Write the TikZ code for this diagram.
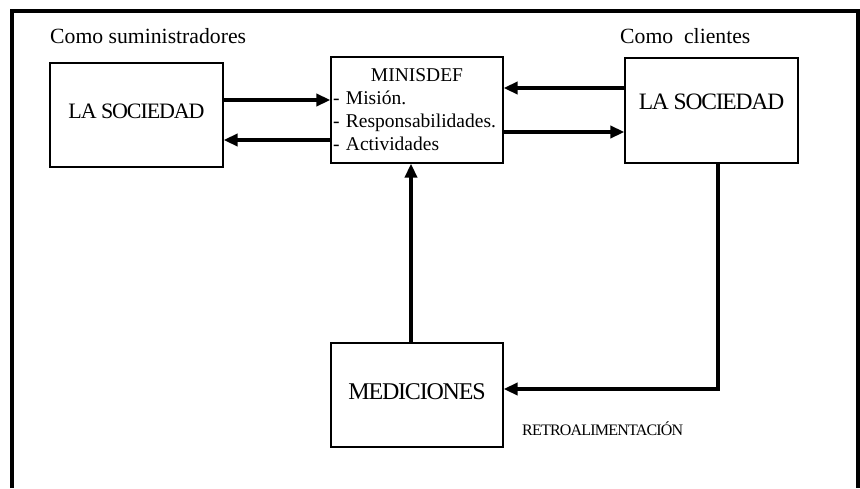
\documentclass[tikz,border=0pt]{standalone}
\usepackage{fontspec}
\setmainfont{Liberation Serif}
\newfontfamily\apretada[LetterSpace=-5]{Liberation Serif}
\usetikzlibrary{arrows.meta}

\begin{document}
\begin{tikzpicture}[
		x=1pt, y=-1pt,
		caja/.style={draw, line width=1.2pt, inner sep=0pt, minimum width=172pt, minimum height=105pt},
		flecha/.style={line width=3.8pt, -{Triangle[length=14pt,width=12pt]}},
		titulo/.style={anchor=base west, inner sep=0pt}
		]
		\useasboundingbox (0,0) rectangle (860,488);
		\draw[line width=3.5pt] (12,488) -- (12,11) -- (858,11) -- (858,488);

		\node[titulo, font=\fontsize{21.7}{26}\selectfont] (sumin) at (50,43) {Como suministradores};
		\node[titulo, font=\fontsize{21.7}{26}\selectfont] (clien) at (620,43) {Como~ clientes};

		\node[caja, minimum width=173pt, minimum height=104pt, text height=15pt, text depth=9pt,
			font=\apretada\fontsize{22}{26}\selectfont] (soc1) at (136.5,115) {LA SOCIEDAD};
		\node[caja, minimum height=106pt, inner xsep=2pt, text width=168pt, align=left,
			font=\fontsize{19.5}{23}\selectfont] (minis) at (417,110)
			{\hfill MINISDEF\hfill\null\\- Misión.\\- Responsabilidades.\\- Actividades};
		\node[caja, minimum width=173pt, text height=16pt, text depth=19pt,
			font=\apretada\fontsize{23.5}{28}\selectfont] (soc2) at (711.5,110.5) {LA SOCIEDAD};
		\node[caja, minimum height=104pt, text height=16pt, text depth=7.4pt,
			font=\apretada\fontsize{24}{28}\selectfont] (medic) at (417,395) {MEDICIONES};
		\node[titulo, font=\apretada\fontsize{16}{19}\selectfont] (retro) at (522,435) {RETROALIMENTACIÓN};

		\draw[flecha] (soc1.east |- 0,100) -- (minis.west |- 0,100);
		\draw[flecha] (minis.west |- 0,140) -- (soc1.east |- 0,140);
		\draw[flecha] (soc2.west |- 0,88) -- (minis.east |- 0,88);
		\draw[flecha] (minis.east |- 0,132) -- (soc2.west |- 0,132);
		\draw[flecha] (medic.north -| 411,0) -- (minis.south -| 411,0);
		\draw[flecha] (soc2.south -| 718,0) |- (medic.east |- 0,389);
\end{tikzpicture}
\end{document}
